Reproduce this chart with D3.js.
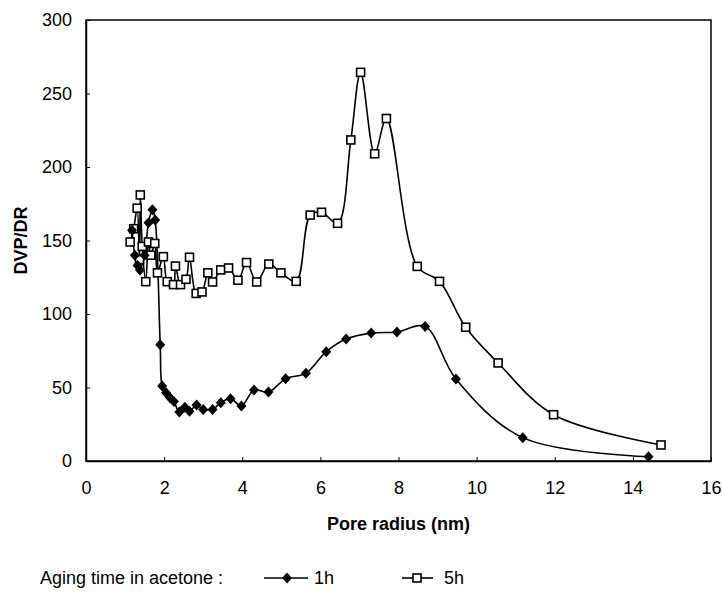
<!DOCTYPE html>
<html>
<head>
<meta charset="utf-8">
<script src="https://cdn.jsdelivr.net/npm/d3@7"></script>
<style>
  html, body { margin: 0; padding: 0; background: #fff; }
  svg { display: block; font-family: "Liberation Sans", Arial, sans-serif; }
</style>
</head>
<body>
<svg id="chart" width="722" height="594"></svg>
<script>
// Pore size distribution (BJH) for two acetone aging times
const radius1h = [1.18, 1.25, 1.32, 1.38, 1.5, 1.6, 1.7, 1.77, 1.9, 1.95, 2.05, 2.15, 2.25, 2.39, 2.53, 2.65, 2.83, 3.0, 3.24, 3.45, 3.7, 3.98, 4.3, 4.67, 5.11, 5.63, 6.15, 6.66, 7.3, 7.96, 8.68, 9.47, 11.18, 14.4];
const dvp1h    = [157, 140, 133, 130, 140, 162, 171, 164, 79, 51, 46.5, 43, 40.4, 33.3, 36.5, 33.8, 38.1, 35.1, 35.1, 39.7, 42.4, 37.4, 48.3, 46.9, 56, 59.7, 74.4, 83, 87, 87.8, 91.5, 55.8, 15.9, 2.9];

const radius5h = [1.13, 1.22, 1.31, 1.37, 1.39, 1.44, 1.53, 1.6, 1.66, 1.76, 1.83, 1.98, 2.08, 2.24, 2.29, 2.42, 2.56, 2.65, 2.82, 2.97, 3.12, 3.24, 3.45, 3.65, 3.89, 4.11, 4.37, 4.68, 4.99, 5.38, 5.74, 6.03, 6.44, 6.78, 7.03, 7.39, 7.69, 8.48, 9.05, 9.72, 10.55, 11.97, 14.72];
const dvp5h    = [149, 158, 172, 137, 181, 146, 122, 149, 140, 148, 128, 139, 122, 120, 132.6, 120, 123.6, 138.6, 114, 115, 128, 121.8, 130, 131.3, 123, 135, 121.8, 134, 128, 122.2, 167.3, 169.2, 161.7, 218.4, 264.4, 209, 233, 132.4, 122.2, 91, 66.7, 31.5, 10.9];

const xTicks = [0, 2, 4, 6, 8, 10, 12, 14, 16];
const yTicks = [0, 50, 100, 150, 200, 250, 300];
const xTitle = "Pore radius (nm)";
const yTitle = "DVP/DR";
const legendTitle = "Aging time in acetone :";
const seriesNames = ["1h", "5h"];

const svg = d3.select("#chart");
const plotL = 86, plotR = 711, plotT = 20, plotB = 461;

const x = d3.scaleLinear().domain([0, 16]).range([plotL, plotR]);
const y = d3.scaleLinear().domain([0, 300]).range([plotB, plotT]);

const ink = "#000";

// Plot frame
svg.append("rect")
  .attr("x", plotL).attr("y", plotT)
  .attr("width", plotR - plotL).attr("height", plotB - plotT)
  .attr("fill", "none").attr("stroke", ink).attr("stroke-width", 1.5);

// Axes with inward ticks
const xAxis = svg.append("g")
  .attr("transform", `translate(0,${plotB})`)
  .call(d3.axisBottom(x).tickValues(xTicks).tickSizeInner(-4).tickSizeOuter(0).tickPadding(14).tickFormat(d3.format("d")));
const yAxis = svg.append("g")
  .attr("transform", `translate(${plotL},0)`)
  .call(d3.axisLeft(y).tickValues(yTicks).tickSizeInner(-4).tickSizeOuter(0).tickPadding(14).tickFormat(d3.format("d")));

[xAxis, yAxis].forEach(g => {
  g.select(".domain").attr("stroke", ink).attr("stroke-width", 1.5);
  g.selectAll(".tick line").attr("stroke", ink).attr("stroke-width", 1);
  g.selectAll(".tick text").attr("fill", ink).attr("font-size", 18)
    .attr("font-family", "'Liberation Sans', Arial, sans-serif");
});
xAxis.selectAll(".tick text").attr("dy", "0.71em").attr("y", 20);

// Axis titles
svg.append("text")
  .attr("x", (plotL + plotR) / 2).attr("y", 530)
  .attr("text-anchor", "middle")
  .attr("font-size", 18).attr("font-weight", "bold")
  .text(xTitle);
svg.append("text")
  .attr("transform", `translate(27,${(plotT + plotB) / 2}) rotate(-90)`)
  .attr("text-anchor", "middle")
  .attr("font-size", 18).attr("font-weight", "bold")
  .text(yTitle);

// Smoothed connecting lines
const line = d3.line()
  .x(d => x(d[0])).y(d => y(d[1]))
  .curve(d3.curveCatmullRom.alpha(0.5));

const pts1h = radius1h.map((r, i) => [r, dvp1h[i]]);
const pts5h = radius5h.map((r, i) => [r, dvp5h[i]]);

svg.append("path").datum(pts5h)
  .attr("d", line).attr("fill", "none").attr("stroke", ink).attr("stroke-width", 1.6);
svg.append("path").datum(pts1h)
  .attr("d", line).attr("fill", "none").attr("stroke", ink).attr("stroke-width", 1.6);

// Marker shapes
const diamondPath = "M0,-5.5L5,0L0,5.5L-5,0Z";
const sq = 8;

svg.append("g").selectAll("rect")
  .data(pts5h).join("rect")
  .attr("x", d => x(d[0]) - sq / 2).attr("y", d => y(d[1]) - sq / 2)
  .attr("width", sq).attr("height", sq)
  .attr("fill", "#fff").attr("stroke", ink).attr("stroke-width", 1.6);

svg.append("g").selectAll("path")
  .data(pts1h).join("path")
  .attr("transform", d => `translate(${x(d[0])},${y(d[1])})`)
  .attr("d", diamondPath).attr("fill", ink);

// Legend
const ly = 578;
svg.append("text")
  .attr("x", 40).attr("y", ly).attr("dy", "0.35em")
  .attr("font-size", 18).text(legendTitle);

const lg1 = svg.append("g");
lg1.append("line").attr("x1", 264).attr("x2", 308).attr("y1", ly).attr("y2", ly)
  .attr("stroke", ink).attr("stroke-width", 1.6);
lg1.append("path").attr("transform", `translate(287,${ly})`).attr("d", diamondPath).attr("fill", ink);
lg1.append("text").attr("x", 314).attr("y", ly).attr("dy", "0.35em")
  .attr("font-size", 18).text(seriesNames[0]);

const lg2 = svg.append("g");
lg2.append("line").attr("x1", 402).attr("x2", 433).attr("y1", ly).attr("y2", ly)
  .attr("stroke", ink).attr("stroke-width", 1.6);
lg2.append("rect").attr("x", 417 - sq / 2).attr("y", ly - sq / 2)
  .attr("width", sq).attr("height", sq)
  .attr("fill", "#fff").attr("stroke", ink).attr("stroke-width", 1.6);
lg2.append("text").attr("x", 444).attr("y", ly).attr("dy", "0.35em")
  .attr("font-size", 18).text(seriesNames[1]);
</script>
</body>
</html>
